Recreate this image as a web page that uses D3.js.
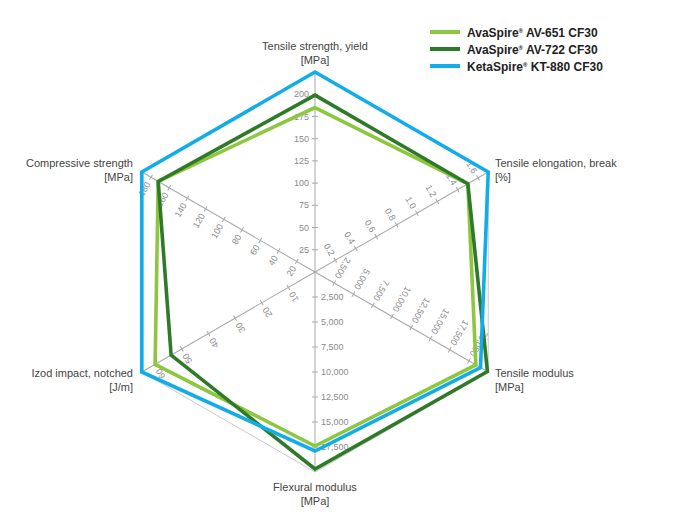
<!DOCTYPE html>
<html>
<head>
<meta charset="utf-8">
<script src="https://cdn.jsdelivr.net/npm/d3@7"></script>
<style>
  body { margin: 0; background: #fff; }
  svg { font-family: "Liberation Sans", Arial, sans-serif; }
</style>
</head>
<body>
<div class="radar_chart"></div>
<script>
// axes, clockwise from the top
const axisNames = ["Tensile strength, yield", "Tensile elongation, break", "Tensile modulus",
  "Flexural modulus", "Izod impact, notched", "Compressive strength"];
const axisUnits = ["[MPa]", "[%]", "[MPa]", "[MPa]", "[J/m]", "[MPa]"];
const axisMax = [225, 1.7, 22500, 20000, 65, 190];
const tickStep = [25, 0.2, 2500, 2500, 10, 20];
const tickFormat = [",", ".1f", ",", ",", ",", ","];

const seriesNames = ["AV-651 CF30", "AV-722 CF30", "KT-880 CF30"];
const seriesBrands = ["AvaSpire", "AvaSpire", "KetaSpire"];
const av651 = [185, 1.5, 20900, 17400, 60, 172];
const av722 = [199, 1.5, 22400, 19700, 54, 172];
const kt880 = [225, 1.7, 21500, 17900, 65, 190];

const colors = ["#8dc63f", "#2f7a28", "#12ade8"];

const width = 700, height = 525;
const cx = 315, cy = 272, R = 200;

const svg = d3.select(".radar_chart").append("svg")
  .attr("width", width).attr("height", height);

const scales = axisMax.map(m => d3.scaleLinear().domain([0, m]).range([0, R]));
const angle = i => i * Math.PI / 3;
const px = (i, r) => cx + r * Math.sin(angle(i));
const py = (i, r) => cy - r * Math.cos(angle(i));

// outer frame
svg.append("path")
  .attr("d", d3.line().curve(d3.curveLinearClosed)(axisNames.map((d, i) => [px(i, R), py(i, R)])))
  .attr("fill", "none")
  .attr("stroke", "#c8c8c8")
  .attr("stroke-width", 1);

// axes with their ticks
axisNames.forEach((name, i) => {
  const s = scales[i];
  const g = svg.append("g")
    .attr("transform", `translate(${cx},${cy}) rotate(${i * 60})`);

  g.append("line")
    .attr("x1", 0).attr("y1", 0).attr("x2", 0).attr("y2", -R)
    .attr("stroke", "#a8a8a8").attr("stroke-width", 1);

  const n = Math.floor(axisMax[i] / tickStep[i] + 1e-9);
  const ticks = d3.range(1, n + 1).map(k => +(k * tickStep[i]).toFixed(4))
    .filter(v => v < axisMax[i] - 1e-9);
  const fmt = d3.format(tickFormat[i]);

  g.selectAll("line.tick").data(ticks).join("line")
    .attr("class", "tick")
    .attr("x1", -3).attr("x2", 3)
    .attr("y1", d => -s(d)).attr("y2", d => -s(d))
    .attr("stroke", "#a8a8a8").attr("stroke-width", 1);

  g.selectAll("text").data(ticks).join("text")
    .attr("transform", d => `translate(-6,${-s(d)})` + (i === 3 ? " rotate(180)" : ""))
    .attr("text-anchor", i === 3 ? "start" : "end")
    .attr("dy", "0.35em")
    .attr("fill", "#8a8a8a")
    .style("font-size", "9px")
    .text(d => fmt(d));
});

// axis titles
const titlePos = [
  { x: 315, y: 50, anchor: "middle" },
  { x: 495, y: 167, anchor: "start" },
  { x: 495, y: 377, anchor: "start" },
  { x: 315, y: 491, anchor: "middle" },
  { x: 133, y: 377, anchor: "end" },
  { x: 133, y: 167, anchor: "end" }
];
axisNames.forEach((name, i) => {
  const t = svg.append("text")
    .attr("x", titlePos[i].x).attr("y", titlePos[i].y)
    .attr("text-anchor", titlePos[i].anchor)
    .attr("fill", "#444")
    .style("font-size", "11px");
  t.append("tspan").attr("x", titlePos[i].x).text(name);
  t.append("tspan").attr("x", titlePos[i].x).attr("dy", 14).text(axisUnits[i]);
});

// series
const seriesData = [av651, av722, kt880];
const line = d3.line().curve(d3.curveLinearClosed);
svg.selectAll("path.series").data(seriesData).join("path")
  .attr("class", "series")
  .attr("d", vals => line(vals.map((v, i) => [px(i, scales[i](v)), py(i, scales[i](v))])))
  .attr("fill", "none")
  .attr("stroke", (d, k) => colors[k])
  .attr("stroke-width", 3.6)
  .attr("stroke-linejoin", "miter");

// legend
const legend = svg.append("g").attr("transform", "translate(430,32)");
seriesNames.forEach((name, k) => {
  const row = legend.append("g").attr("transform", `translate(0,${k * 17})`);
  row.append("line")
    .attr("x1", 0).attr("x2", 30).attr("y1", 0).attr("y2", 0)
    .attr("stroke", colors[k]).attr("stroke-width", 4);
  const t = row.append("text")
    .attr("x", 37).attr("y", 4.5)
    .attr("fill", "#222")
    .style("font-size", "12px")
    .style("font-weight", "bold");
  t.append("tspan").text(seriesBrands[k]);
  t.append("tspan").style("font-size", "6px").attr("dy", -3.5).text("\u00ae");
  t.append("tspan").attr("dy", 3.5).text(" " + name.replace(" ", "\u00a0"));
});
</script>
</body>
</html>
